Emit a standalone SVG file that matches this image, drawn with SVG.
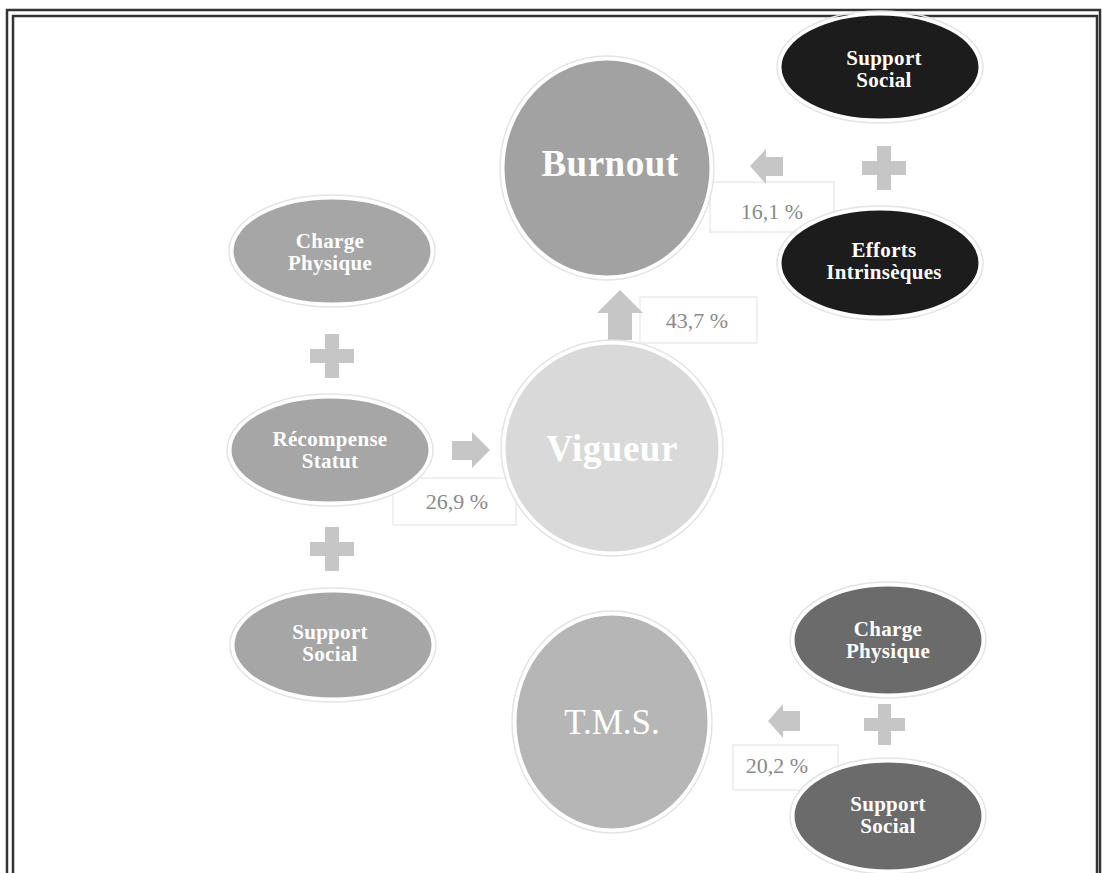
<svg xmlns="http://www.w3.org/2000/svg" width="1102" height="873" viewBox="0 0 1102 873">
<style>
.node{stroke:#ffffff;stroke-width:3}
.halo{fill:none;stroke:#e4e4e4;stroke-width:1.5}
.t{font-family:"Liberation Serif","DejaVu Serif",serif;fill:#ffffff;text-anchor:middle}
.big{font-size:37px;font-weight:bold;letter-spacing:0.5px}
.small{font-size:21px;font-weight:bold;letter-spacing:0.3px}
.lbl{font-family:"Liberation Serif","DejaVu Serif",serif;font-size:22px;fill:#8a8a8a;text-anchor:middle}
.box{fill:none;stroke:#e6e6e6;stroke-width:1.2}
.sym{fill:#c6c6c6}
</style>
<rect width="1102" height="873" fill="#ffffff"/>
<g id="frame">
<rect x="7" y="10" width="1093" height="880" fill="none" stroke="#333" stroke-width="2.5"/>
<rect x="13" y="16" width="1084" height="880" fill="none" stroke="#333" stroke-width="2.5"/>
</g>
<g id="connectors">
<rect class="box" x="710" y="182" width="124" height="50"/>
<polygon class="sym" points="750,166 766,149 766,157 783,157 783,176 766,176 766,184"/>
<text class="lbl" x="772" y="219">16,1 %</text>
<rect class="box" x="640" y="297" width="117" height="46"/>
<polygon class="sym" points="620,290 643,313 632,313 632,340 608,340 608,313 597,313"/>
<text class="lbl" x="697" y="328">43,7 %</text>
<rect class="box" x="393" y="478" width="123" height="47"/>
<polygon class="sym" points="490,450 472,432 472,441 452,441 452,460 472,460 472,468"/>
<text class="lbl" x="457" y="509">26,9 %</text>
<rect class="box" x="733" y="745" width="105" height="45"/>
<polygon class="sym" points="768,721 783,704 783,711 800,711 800,731 783,731 783,738"/>
<text class="lbl" x="777" y="773">20,2 %</text>
<path class="sym" d="M877 146h14v15h15v14h-15v15h-14v-15h-15v-14h15z"/>
<path class="sym" d="M325 334h14v15h15v14h-15v15h-14v-15h-15v-14h15z"/>
<path class="sym" d="M325 527h14v15h15v14h-15v15h-14v-15h-15v-14h15z"/>
<path class="sym" d="M878 704h13v14h14v13h-14v14h-13v-14h-14v-13h14z"/>
</g>
<g id="burnout">
<ellipse class="halo" cx="607" cy="168" rx="107" ry="112"/>
<ellipse class="node" cx="607" cy="168" rx="104" ry="109" fill="#a2a2a2"/>
<text class="t big" x="610" y="176">Burnout</text>
</g>
<g id="vigueur">
<ellipse class="halo" cx="612" cy="448" rx="111" ry="108"/>
<ellipse class="node" cx="612" cy="448" rx="108" ry="105" fill="#d9d9d9"/>
<text class="t big" x="612" y="461">Vigueur</text>
</g>
<g id="tms">
<ellipse class="halo" cx="612" cy="722" rx="100" ry="111"/>
<ellipse class="node" cx="612" cy="722" rx="97" ry="108" fill="#b6b6b6"/>
<text class="t" x="612" y="734" font-size="35">T.M.S.</text>
</g>
<g id="support-social-top">
<ellipse class="halo" cx="880" cy="67" rx="103" ry="56"/>
<ellipse class="node" cx="880" cy="67" rx="100" ry="53" fill="#1c1c1c"/>
<text class="t small" x="884" y="65">Support</text>
<text class="t small" x="884" y="87">Social</text>
</g>
<g id="efforts-intrinseques">
<ellipse class="halo" cx="880" cy="263" rx="103" ry="57"/>
<ellipse class="node" cx="880" cy="263" rx="100" ry="54" fill="#1c1c1c"/>
<text class="t small" x="884" y="257">Efforts</text>
<text class="t small" x="884" y="279">Intrinsèques</text>
</g>
<g id="charge-physique-left">
<ellipse class="halo" cx="332" cy="251" rx="103" ry="56"/>
<ellipse class="node" cx="332" cy="251" rx="100" ry="53" fill="#a6a6a6"/>
<text class="t small" x="330" y="248">Charge</text>
<text class="t small" x="330" y="270">Physique</text>
</g>
<g id="recompense-statut">
<ellipse class="halo" cx="330" cy="450" rx="103" ry="56"/>
<ellipse class="node" cx="330" cy="450" rx="100" ry="53" fill="#a6a6a6"/>
<text class="t small" x="330" y="446">Récompense</text>
<text class="t small" x="330" y="468">Statut</text>
</g>
<g id="support-social-left">
<ellipse class="halo" cx="333" cy="645" rx="103" ry="57"/>
<ellipse class="node" cx="333" cy="645" rx="100" ry="54" fill="#a6a6a6"/>
<text class="t small" x="330" y="639">Support</text>
<text class="t small" x="330" y="661">Social</text>
</g>
<g id="charge-physique-right">
<ellipse class="halo" cx="888" cy="640" rx="98" ry="58"/>
<ellipse class="node" cx="888" cy="640" rx="95" ry="55" fill="#6b6b6b"/>
<text class="t small" x="888" y="636">Charge</text>
<text class="t small" x="888" y="658">Physique</text>
</g>
<g id="support-social-right">
<ellipse class="halo" cx="888" cy="816" rx="98" ry="58"/>
<ellipse class="node" cx="888" cy="816" rx="95" ry="55" fill="#6b6b6b"/>
<text class="t small" x="888" y="811">Support</text>
<text class="t small" x="888" y="833">Social</text>
</g>
</svg>
